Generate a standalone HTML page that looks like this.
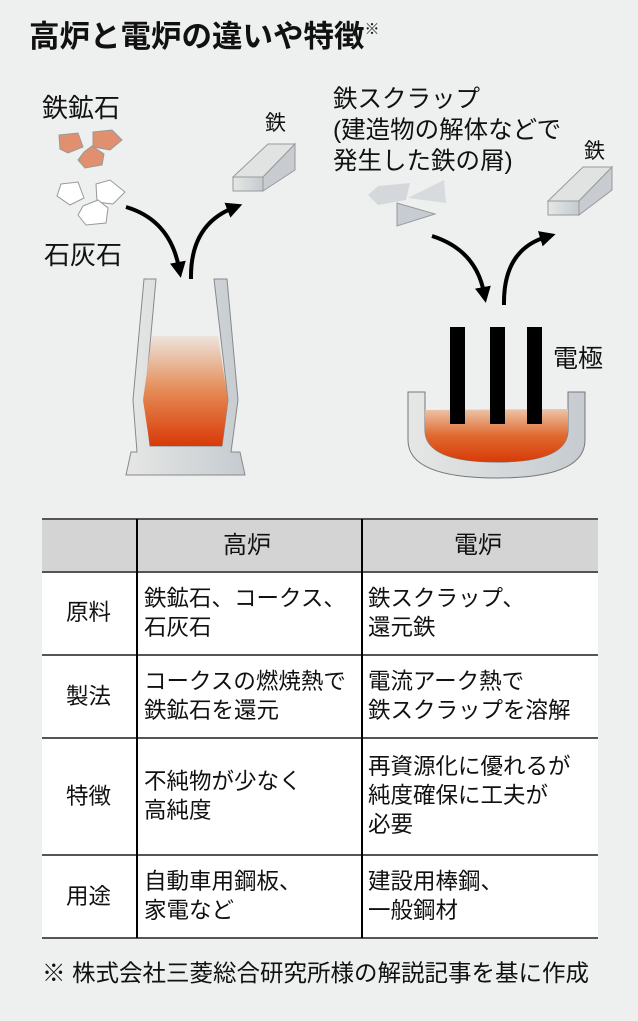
<!DOCTYPE html>
<html><head><meta charset="utf-8"><style>
body{margin:0;width:638px;height:1021px;background:#eef0ef;position:relative;overflow:hidden;font-family:"Liberation Sans","Noto Sans CJK JP",sans-serif;color:#111}
.t{position:absolute;white-space:nowrap;line-height:1}
.c{position:absolute;font-size:22.5px;line-height:29px;white-space:nowrap}
.h{position:absolute;height:1px}
</style></head><body>
<div class="t" style="left:29px;top:22px;font-size:30.5px;font-weight:bold">高炉と電炉の違いや特徴<span style="font-size:15px;vertical-align:top;font-weight:normal">※</span></div>
<svg width="638" height="500" style="position:absolute;left:0;top:0">
<defs>
<linearGradient id="g" x1="0" x2="1"><stop offset="0" stop-color="#e6e7e5"/><stop offset="1" stop-color="#c5cbd0"/></linearGradient>
<linearGradient id="m" x1="0" y1="0" x2="0" y2="1"><stop offset="0" stop-color="#ece4dc"/><stop offset="0.5" stop-color="#e58a55"/><stop offset="1" stop-color="#d83a08"/></linearGradient>
<linearGradient id="m2" x1="0" y1="0" x2="0" y2="1"><stop offset="0" stop-color="#ecc6a8"/><stop offset="0.5" stop-color="#e06a30"/><stop offset="1" stop-color="#d83a08"/></linearGradient>
<marker id="a" markerWidth="4" markerHeight="4" refX="1.5" refY="2" orient="auto"><path d="M0,0 L4,2 L0,4 Z" fill="#000"/></marker>
</defs>
<g fill="#e0906e" stroke="#999" stroke-width="1">
<polygon points="59,135 78,133 83,147 68,153 60,149"/>
<polygon points="93,132 112,130 122,140 110,150 93,147"/>
<polygon points="84,152 92,146 104,154 102,165 85,168 78,160"/>
</g>
<g fill="#fff" stroke="#999" stroke-width="1">
<polygon points="61,184 78,182 84,198 70,205 57,196"/>
<polygon points="96,184 110,180 125,192 113,204 97,202"/>
<polygon points="83,206 98,200 108,208 106,223 86,225 78,215"/>
</g>
<polygon points="233,177 263,177 295,144 268,144" fill="#e1e3e2" stroke="#999"/>
<polygon points="263,177 295,144 295,170 263,191" fill="#c8ccd0" stroke="#999"/>
<rect x="233" y="177" width="30" height="14" fill="url(#g)" stroke="#999"/>
<path d="M126,207 Q170,220 179,268" fill="none" stroke="#000" stroke-width="4" marker-end="url(#a)"/>
<path d="M191,279 Q190,225 233,208" fill="none" stroke="#000" stroke-width="4" marker-end="url(#a)"/>
<polygon points="144,279 156,279 145,400 150,446 222,446 228,400 214,279 227,279 238,400 231,452 240,452 245,475 126,475 131,452 137,452 133,400" fill="url(#g)" stroke="#888" stroke-width="1"/>
<polygon points="152,336 218,336 228,400 222,446 150,446 143,400" fill="url(#m)"/>
<polygon points="368,195 378,186 410,183 406,200 378,205" fill="#d5d8db"/>
<polygon points="408,198 444,180 446,203" fill="#d8dbde"/>
<polygon points="397,203 397,226 435,214" fill="#c6ccd2" stroke="#999"/>
<polygon points="548,201 579,201 612,167 583,167" fill="#e1e3e2" stroke="#999"/>
<polygon points="579,201 612,167 612,190 579,215" fill="#c8ccd0" stroke="#999"/>
<rect x="548" y="201" width="31" height="14" fill="url(#g)" stroke="#999"/>
<path d="M432,236 Q476,250 484,293" fill="none" stroke="#000" stroke-width="4" marker-end="url(#a)"/>
<path d="M504,305 Q503,250 546,237" fill="none" stroke="#000" stroke-width="4" marker-end="url(#a)"/>
<path d="M408,392 L425,392 L425,430 Q425,462 497,462 Q568,462 568,430 L568,392 L585,392 L585,440 Q585,478 497,478 Q408,478 408,440 Z" fill="url(#g)" stroke="#777"/>
<path d="M425,410 L568,409 L568,430 Q568,462 497,462 Q425,462 425,430Z" fill="url(#m2)"/>
<rect x="450" y="327" width="15" height="97" fill="#000"/>
<rect x="490" y="327" width="15" height="97" fill="#000"/>
<rect x="527" y="327" width="15" height="97" fill="#000"/>
</svg>
<div class="t" style="left:42px;top:95px;font-size:26px">鉄鉱石</div>
<div class="t" style="left:44px;top:242px;font-size:26px">石灰石</div>
<div class="t" style="left:265px;top:113px;font-size:21px">鉄</div>
<div class="t" style="left:333px;top:84px;font-size:24.5px;line-height:31px">鉄スクラップ<br>(建造物の解体などで<br>発生した鉄の屑)</div>
<div class="t" style="left:584px;top:141px;font-size:21px">鉄</div>
<div class="t" style="left:553px;top:347px;font-size:25px">電極</div>
<div style="position:absolute;left:42px;top:519px;width:556px;height:419px;background:#fff"></div>
<div style="position:absolute;left:42px;top:519px;width:556px;height:53px;background:#d4d4d4"></div>
<div class="h" style="left:42px;top:518px;width:556px;height:2px;background:#555"></div>
<div class="h" style="left:42px;top:571px;width:556px;height:2px;background:#555"></div>
<div class="h" style="left:42px;top:654px;width:556px;height:2px;background:#555"></div>
<div class="h" style="left:42px;top:737px;width:556px;height:2px;background:#555"></div>
<div class="h" style="left:42px;top:854px;width:556px;height:2px;background:#555"></div>
<div class="h" style="left:42px;top:937px;width:556px;height:2px;background:#555"></div>
<div style="position:absolute;left:136px;top:519px;width:1.5px;height:419px;background:#000"></div>
<div style="position:absolute;left:361px;top:519px;width:1.5px;height:419px;background:#000"></div>
<div class="c" style="left:223px;top:531px;font-size:24px">高炉</div>
<div class="c" style="left:454px;top:531px;font-size:24px">電炉</div>
<div class="c" style="left:66px;top:598px">原料</div>
<div class="c" style="left:144px;top:584px">鉄鉱石、コークス、<br>石灰石</div>
<div class="c" style="left:368px;top:584px">鉄スクラップ、<br>還元鉄</div>
<div class="c" style="left:66px;top:682px">製法</div>
<div class="c" style="left:144px;top:667px">コークスの燃焼熱で<br>鉄鉱石を還元</div>
<div class="c" style="left:368px;top:667px">電流アーク熱で<br>鉄スクラップを溶解</div>
<div class="c" style="left:66px;top:782px">特徴</div>
<div class="c" style="left:144px;top:767px">不純物が少なく<br>高純度</div>
<div class="c" style="left:368px;top:752px">再資源化に優れるが<br>純度確保に工夫が<br>必要</div>
<div class="c" style="left:66px;top:882px">用途</div>
<div class="c" style="left:144px;top:867px">自動車用鋼板、<br>家電など</div>
<div class="c" style="left:368px;top:867px">建設用棒鋼、<br>一般鋼材</div>
<div class="t" style="left:42px;top:962px;font-size:23.5px">※ 株式会社三菱総合研究所様の解説記事を基に作成</div>
</body></html>
